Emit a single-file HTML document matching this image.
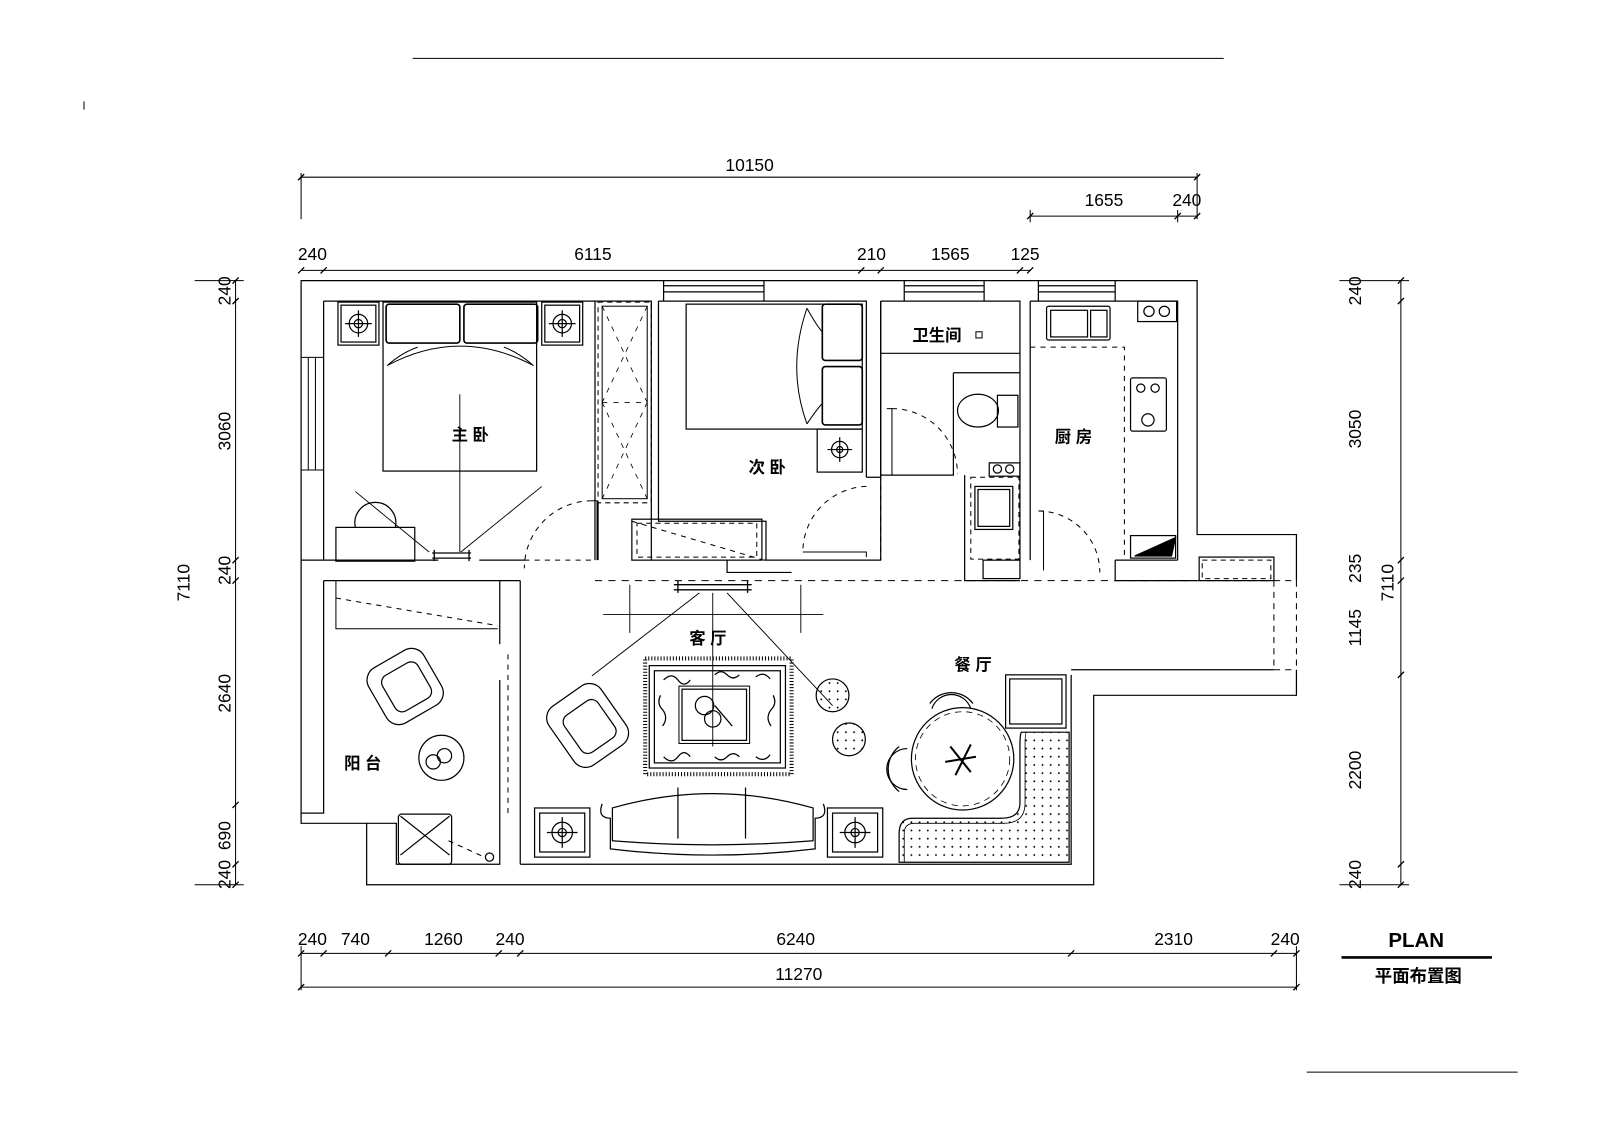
<!DOCTYPE html>
<html><head><meta charset="utf-8"><style>
html,body{margin:0;padding:0;background:#fff;}
svg{display:block;}
text{font-family:"Liberation Sans","Noto Sans CJK SC",sans-serif;fill:#000;}
</style></head><body>
<svg width="1600" height="1131" viewBox="0 0 1600 1131" xmlns="http://www.w3.org/2000/svg">
<defs>
<pattern id="dots" width="8" height="8" patternUnits="userSpaceOnUse"><circle cx="4" cy="4" r="0.9" fill="#000"/></pattern>
</defs>
<g transform="translate(-2,-1) scale(1.024)" fill="none" stroke="#000" stroke-width="1.2">
<line x1="405" y1="58" x2="1197" y2="58" stroke-width="1"/>
<line x1="84" y1="100" x2="84" y2="108" stroke-width="1"/>
<line x1="1278" y1="1048" x2="1484" y2="1048" stroke-width="1"/>

<g stroke-width="1">
<line x1="296" y1="174" x2="1171" y2="174"/><line x1="296" y1="170" x2="296" y2="215"/><line x1="1171" y1="170" x2="1171" y2="215"/>
<line x1="1008" y1="212" x2="1171" y2="212"/><line x1="1008" y1="206" x2="1008" y2="218"/><line x1="1152" y1="206" x2="1152" y2="218"/>
<line x1="296" y1="265" x2="1008" y2="265"/>
<line x1="232" y1="275" x2="232" y2="865"/>
<line x1="1370" y1="275" x2="1370" y2="865"/>
<line x1="296" y1="932" x2="1268" y2="932"/>
<line x1="296" y1="965" x2="1268" y2="965"/>
<line x1="296" y1="925" x2="296" y2="968"/><line x1="1268" y1="925" x2="1268" y2="968"/>
<line x1="192" y1="275" x2="240" y2="275"/><line x1="192" y1="865" x2="240" y2="865"/>
<line x1="1310" y1="275" x2="1378" y2="275"/><line x1="1310" y1="865" x2="1378" y2="865"/>
</g>
<g stroke-width="1.3">
<path d="M293 268 l6 -6 M315 268 l6 -6 M840 268 l6 -6 M859 268 l6 -6 M995 268 l6 -6 M1005 268 l6 -6 M1005 215 l6 -6 M1149 215 l6 -6 M1168 215 l6 -6 M293 177 l6 -6 M1168 177 l6 -6"/>
<path d="M229 278 l6 -6 M229 298 l6 -6 M229 551 l6 -6 M229 571 l6 -6 M229 790 l6 -6 M229 848 l6 -6 M229 868 l6 -6"/>
<path d="M1367 278 l6 -6 M1367 298 l6 -6 M1367 551 l6 -6 M1367 571 l6 -6 M1367 663 l6 -6 M1367 848 l6 -6 M1367 868 l6 -6"/>
<path d="M293 935 l6 -6 M315 935 l6 -6 M378 935 l6 -6 M486 935 l6 -6 M507 935 l6 -6 M1045 935 l6 -6 M1243 935 l6 -6 M1265 935 l6 -6 M293 968 l6 -6 M1265 968 l6 -6"/>
</g>
<line x1="1312" y1="936" x2="1459" y2="936" stroke-width="2.5"/>

<!-- outer walls -->
<path d="M1268 568 V523 H1171 V275 H296 V805 H360 V865 H1070 V680 H1268 V655"/>
<path d="M1246 568 H1268 M1246 655 H1268 M1246 568 V655 M1268 568 V655" stroke-dasharray="6 5" stroke-width="1"/>
<path d="M318 295 H580 M318 295 V548 H430 M470 548 H515"/>
<path d="M318 350 H296 M318 460 H296 M303 350 V460 M310 350 V460" stroke-width="1"/>
<path d="M650 275 V295 M748 275 V295 M650 280 H748 M650 286 H748"/>
<path d="M885 275 V295 M963 275 V295 M885 280 H963 M885 286 H963"/>
<path d="M1016 275 V295 M1091 275 V295 M1016 280 H1091 M1016 286 H1091"/>
<path d="M580 295 H638 V548 M645 295 V510 H750 V548 M645 295 H848 V467 M862 295 V467 M848 467 H862"/>
<path d="M583 295 V548 M586 492 V548"/>
<path d="M748 548 H862 V295"/>
<path d="M712 548 V560 H775"/>
<path d="M862 295 H998 V548 M1008 295 H1152 V548 M998 295 V548 M1008 295 V548"/>
<path d="M862 346 H998 M933 365 H998 M933 365 V465 H862"/>
<path d="M944 465 V568 H998 M1091 548 V568 H1171 M1091 548 H1152"/>
<path d="M318 548 H296 M318 568 H490 V630 M510 568 V845 M490 665 V795"/>
<path d="M490 568 H510"/>
<path d="M318 568 V795 H296"/>
<path d="M360 805 H389 V845 H490 V795 M510 845 H1048 V660 M1048 655 H1246"/>
<path d="M583 568 H1246" stroke-dasharray="7 6" stroke-width="1"/>
<g stroke-width="1" stroke-dasharray="5 5">
<path d="M580 490 A66 66 0 0 0 514 556"/>
<path d="M848 476 A64 64 0 0 0 786 540"/>
<path d="M873 400 A64 64 0 0 1 937 464"/>
<path d="M1016 500 A60 60 0 0 1 1076 560"/>
<path d="M514 548 H580 M862 465 V548 M498 640 V795"/>
<path d="M1008 340 H1100 V548"/>
<path d="M330 585 L488 612"/>
<path d="M619 510 L748 548"/>
</g>
<path d="M580 490 H585 V548 M786 540 H848 V545 M868 400 H873 V465 M1016 500 H1021 V558" stroke-width="1"/>
<path d="M330 568 V615 H488" stroke-width="1"/>

<rect x="376" y="296" width="150" height="165" stroke-width="1.2"/>
<rect x="379" y="298" width="72" height="38" rx="3" stroke-width="1.6"/>
<rect x="455" y="298" width="72" height="38" rx="3" stroke-width="1.6"/>
<path d="M380 358 Q451 320 523 358 M380 358 Q395 345 410 340 M523 358 Q508 345 494 340" stroke-width="1"/>
<rect x="332" y="296" width="40" height="42"/><rect x="335" y="299" width="34" height="36"/>
<rect x="531" y="296" width="40" height="42"/><rect x="534" y="299" width="34" height="36"/>
<circle cx="352" cy="317" r="9"/><circle cx="352" cy="317" r="4"/><path d="M339 317 H365 M352 304 V330"/>
<circle cx="551" cy="317" r="9"/><circle cx="551" cy="317" r="4"/><path d="M538 317 H564 M551 304 V330"/>
<rect x="586" y="296" width="52" height="196" stroke-dasharray="5 4" stroke-width="1"/>
<rect x="590" y="300" width="44" height="188" stroke-width="1"/>
<path d="M590 300 L634 394 M634 300 L590 394 M590 394 L634 488 M634 394 L590 488 M590 394 H634" stroke-dasharray="5 6" stroke-width="0.8"/>
<rect x="330" y="516" width="77" height="33"/>
<path d="M349 516 A20 20 0 1 1 388 516"/>
<path d="M349 481 L421 540 M531 476 L452 540 M451 386 V540" stroke-width="0.9"/>
<path d="M424 541 H462 M424 546 H462 M426 538 V549 M460 538 V549" stroke-width="1.3"/>
<rect x="672" y="298" width="172" height="122"/>
<rect x="805" y="298" width="39" height="55" rx="3" stroke-width="1.6"/>
<rect x="805" y="359" width="39" height="57" rx="3" stroke-width="1.6"/>
<path d="M790 302 Q770 360 790 415 M790 302 Q800 320 805 325 M790 415 Q800 400 805 395" stroke-width="1"/>
<rect x="800" y="420" width="44" height="42"/><circle cx="822" cy="440" r="8"/><circle cx="822" cy="440" r="3"/><path d="M810 440 H834 M822 428 V452"/>
<rect x="619" y="508" width="127" height="40"/><rect x="624" y="512" width="117" height="33" stroke-dasharray="5 4" stroke-width="1"/>
<ellipse cx="957" cy="402" rx="20" ry="16"/><rect x="976" y="387" width="20" height="31"/>
<rect x="968" y="453" width="30" height="13"/><circle cx="976" cy="459" r="4"/><circle cx="988" cy="459" r="4"/>
<rect x="950" y="467" width="47" height="80" stroke-dasharray="5 4" stroke-width="1"/>
<rect x="954" y="476" width="37" height="42"/><rect x="957" y="479" width="31" height="36"/>
<rect x="962" y="548" width="36" height="18"/>
<rect x="955" y="325" width="6" height="6" stroke-width="1"/>
<rect x="1024" y="300" width="62" height="33" rx="2"/><rect x="1028" y="304" width="36" height="26"/><rect x="1067" y="304" width="16" height="26"/>
<rect x="1113" y="295" width="38" height="20"/><circle cx="1124" cy="305" r="5"/><circle cx="1139" cy="305" r="5"/>
<rect x="1106" y="370" width="35" height="52" rx="2"/><circle cx="1116" cy="380" r="4"/><circle cx="1130" cy="380" r="4"/><circle cx="1123" cy="411" r="6"/>
<rect x="1106" y="524" width="44" height="22"/>
<path d="M1110 544 H1146 L1150 526 Z" fill="#000"/>
<rect x="1173" y="545" width="73" height="23"/><rect x="1176" y="548" width="67" height="18" stroke-dasharray="5 4" stroke-width="1"/>
<path d="M660 572 H736 M660 577 H736 M664 568 V580 M732 568 V580" stroke-width="1.3"/>
<path d="M591 601 H806 M617 572 V619 M784 572 V619 M698 580 V730" stroke-width="0.9"/>
<path d="M685 580 L580 661 M712 580 L815 690" stroke-width="0.9"/>
<rect x="632" y="644" width="143" height="113" stroke-width="4" stroke-dasharray="1 2"/>
<rect x="636" y="651" width="133" height="100"/>
<rect x="641" y="656" width="123" height="90"/>
<rect x="665" y="671" width="69" height="56" stroke-width="1"/><rect x="668" y="674" width="63" height="50"/>
<g stroke-width="1.2">
<path d="M650 665 q8 -8 14 0 q6 8 12 0 M700 660 q6 -6 12 0 q6 6 12 0 M740 662 q8 -6 14 2 M650 740 q8 8 14 0 q6 -8 12 0 M700 740 q6 6 12 0 q6 -6 12 0 M740 740 q8 6 14 -2 M647 680 q-4 8 2 14 q6 8 0 16 M757 680 q4 8 -2 14 q-6 8 0 16"/>
</g>
<circle cx="690" cy="690" r="9"/><circle cx="698" cy="703" r="8"/><path d="M700 690 L717 710"/>
<g transform="rotate(-35 575 710)"><rect x="545" y="675" width="62" height="70" rx="14"/><rect x="557" y="690" width="40" height="44" rx="8"/></g>
<circle cx="815" cy="680" r="16"/><circle cx="815" cy="680" r="16" fill="url(#dots)" stroke="none"/>
<circle cx="831" cy="723" r="16"/><circle cx="831" cy="723" r="16" fill="url(#dots)" stroke="none"/>
<path d="M600 790 Q698 762 796 790 L796 822 Q698 830 600 822 Z"/>
<path d="M590 786 Q585 800 598 800 L598 830 Q698 842 798 830 L798 800 Q811 800 806 786"/>
<path d="M664 770 V820 M730 770 V820"/>
<rect x="524" y="790" width="54" height="48"/><rect x="529" y="795" width="44" height="38"/><circle cx="551" cy="814" r="10"/><circle cx="551" cy="814" r="4"/><path d="M536 814 H566 M551 799 V829"/>
<rect x="810" y="790" width="54" height="48"/><rect x="815" y="795" width="44" height="38"/><circle cx="837" cy="814" r="10"/><circle cx="837" cy="814" r="4"/><path d="M822 814 H852 M837 799 V829"/>
<g transform="rotate(-30 398 670)"><rect x="366" y="640" width="62" height="62" rx="14"/><rect x="378" y="652" width="40" height="40" rx="8"/></g>
<circle cx="433" cy="741" r="22"/><circle cx="425" cy="745" r="7"/><circle cx="436" cy="739" r="7"/>
<rect x="391" y="796" width="52" height="49" rx="3"/><path d="M393 798 L441 836 M441 798 L393 836"/>
<path d="M440 822 L475 838" stroke-dasharray="5 5" stroke-width="1"/><circle cx="480" cy="838" r="4"/>
<circle cx="942" cy="742" r="50"/><circle cx="942" cy="742" r="46" stroke-dasharray="6 5" stroke-width="0.8"/>
<path d="M930 730 l20 25 M950 728 l-15 30 M925 745 l30 -5" stroke-width="2"/>
<path d="M912 693 A20 20 0 0 1 950 693"/><path d="M910 688 A26 26 0 0 1 952 688"/>
<path d="M888 772 A20 20 0 0 1 888 732"/><path d="M880 774 A28 28 0 0 1 880 730"/>
<rect x="984" y="660" width="59" height="52"/><rect x="988" y="664" width="51" height="44"/>
<path d="M1000 716 Q998 715 998 730 L998 785 Q998 800 980 800 L893 800 Q880 800 880 815 L880 843 H1046 V716 Z" fill="url(#dots)"/>
<path d="M1004 716 Q1003 716 1003 730 L1003 785 Q1003 805 982 805 L895 805 Q885 805 885 815 L885 843" stroke-width="0.8"/>
</g>
<g font-size="17" transform="translate(-2,-1) scale(1.024)">
<text x="734" y="168" text-anchor="middle">10150</text>
<text x="1080" y="202" text-anchor="middle">1655</text>
<text x="1161" y="202" text-anchor="middle">240</text>
<text x="307" y="255" text-anchor="middle">240</text>
<text x="581" y="255" text-anchor="middle">6115</text>
<text x="853" y="255" text-anchor="middle">210</text>
<text x="930" y="255" text-anchor="middle">1565</text>
<text x="1003" y="255" text-anchor="middle">125</text>
<text x="307" y="924" text-anchor="middle">240</text>
<text x="349" y="924" text-anchor="middle">740</text>
<text x="435" y="924" text-anchor="middle">1260</text>
<text x="500" y="924" text-anchor="middle">240</text>
<text x="779" y="924" text-anchor="middle">6240</text>
<text x="1148" y="924" text-anchor="middle">2310</text>
<text x="1257" y="924" text-anchor="middle">240</text>
<text x="782" y="958" text-anchor="middle">11270</text>
<g transform="rotate(-90)">
<text x="-285" y="227" text-anchor="middle">240</text>
<text x="-422" y="227" text-anchor="middle">3060</text>
<text x="-558" y="227" text-anchor="middle">240</text>
<text x="-570" y="187" text-anchor="middle">7110</text>
<text x="-678" y="227" text-anchor="middle">2640</text>
<text x="-817" y="227" text-anchor="middle">690</text>
<text x="-855" y="227" text-anchor="middle">240</text>
<text x="-285" y="1331" text-anchor="middle">240</text>
<text x="-420" y="1331" text-anchor="middle">3050</text>
<text x="-556" y="1331" text-anchor="middle">235</text>
<text x="-570" y="1363" text-anchor="middle">7110</text>
<text x="-614" y="1331" text-anchor="middle">1145</text>
<text x="-753" y="1331" text-anchor="middle">2200</text>
<text x="-855" y="1331" text-anchor="middle">240</text>
</g>
<text x="1385" y="926" text-anchor="middle" font-size="20" font-weight="bold">PLAN</text>
<text x="1387" y="960" text-anchor="middle" font-size="17" font-weight="bold">平面布置图</text>
<g font-size="16" font-weight="bold">
<text x="443" y="431">主 卧</text>
<text x="733" y="463">次 卧</text>
<text x="893" y="334">卫生间</text>
<text x="1032" y="433">厨 房</text>
<text x="675" y="630">客  厅</text>
<text x="934" y="656">餐 厅</text>
<text x="338" y="752">阳 台</text>
</g>
</g>
</svg>
</body></html>
